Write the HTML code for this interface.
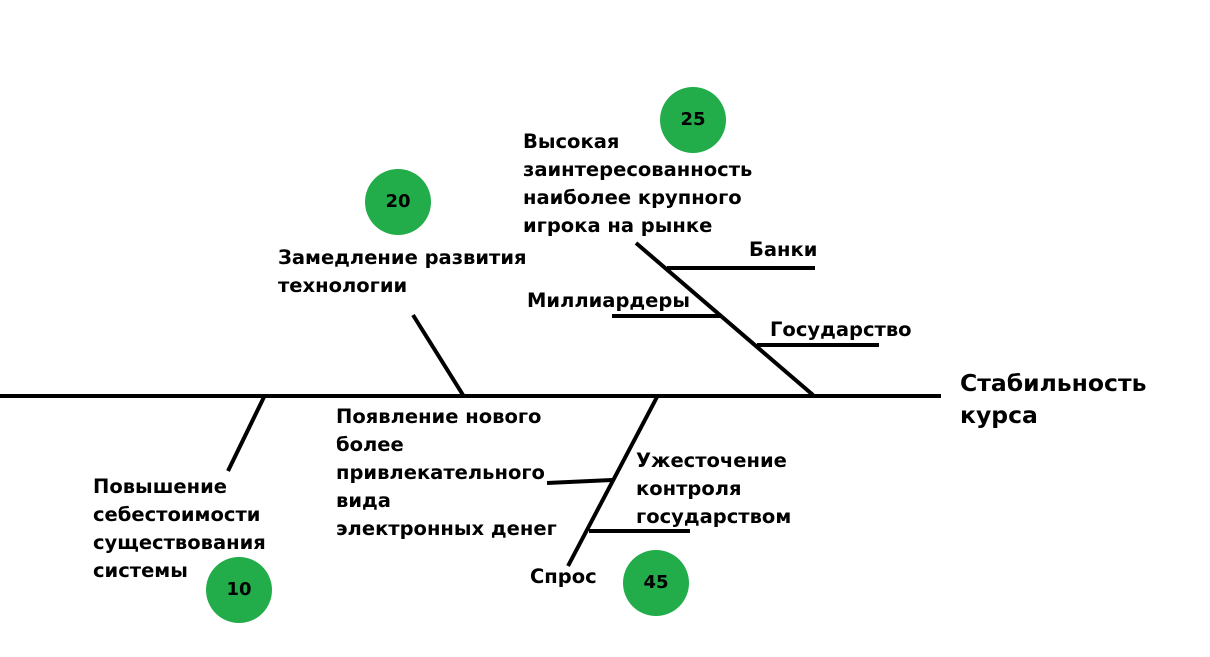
<!DOCTYPE html>
<html><head><meta charset="utf-8"><style>
body{margin:0;background:#fff;width:1210px;height:657px;overflow:hidden;position:relative;font-family:"DejaVu Sans","Liberation Sans",sans-serif;font-weight:bold;}
.t{position:absolute;font-size:19.5px;line-height:28px;color:#000;white-space:nowrap;}
.c{position:absolute;width:66px;height:66px;border-radius:50%;background:#22ac4a;font-size:18px;line-height:66px;text-align:center;}
</style></head><body>
<svg width="1210" height="657" style="position:absolute;left:0;top:0" stroke="#000" stroke-width="4" stroke-linecap="butt">
<line x1="0" y1="396" x2="941" y2="396"/>
<line x1="413" y1="315" x2="463" y2="395"/>
<line x1="636" y1="243" x2="813" y2="395"/>
<line x1="667" y1="268" x2="815" y2="268"/>
<line x1="612" y1="316" x2="722" y2="316"/>
<line x1="757" y1="345" x2="879" y2="345"/>
<line x1="264" y1="397" x2="228" y2="471"/>
<line x1="657" y1="397" x2="568" y2="566"/>
<line x1="547" y1="483" x2="612" y2="480"/>
<line x1="589" y1="531" x2="690" y2="531"/>
</svg>
<div class="c" style="left:365px;top:169px">20</div>
<div class="c" style="left:660px;top:87px">25</div>
<div class="c" style="left:206px;top:557px">10</div>
<div class="c" style="left:623px;top:550px">45</div>
<div class="t" style="left:523px;top:128px">Высокая<br>заинтересованность<br>наиболее крупного<br>игрока на рынке</div>
<div class="t" style="left:278px;top:244px">Замедление развития<br>технологии</div>
<div class="t" style="left:749px;top:236px">Банки</div>
<div class="t" style="left:527px;top:287px">Миллиардеры</div>
<div class="t" style="left:770px;top:316px">Государство</div>
<div class="t" style="left:960px;top:367px;font-size:23.5px;line-height:32px">Стабильность<br>курса</div>
<div class="t" style="left:336px;top:403px">Появление нового<br>более<br>привлекательного<br>вида<br>электронных денег</div>
<div class="t" style="left:636px;top:447px">Ужесточение<br>контроля<br>государством</div>
<div class="t" style="left:93px;top:473px">Повышение<br>себестоимости<br>существования<br>системы</div>
<div class="t" style="left:530px;top:563px">Спрос</div>
</body></html>
